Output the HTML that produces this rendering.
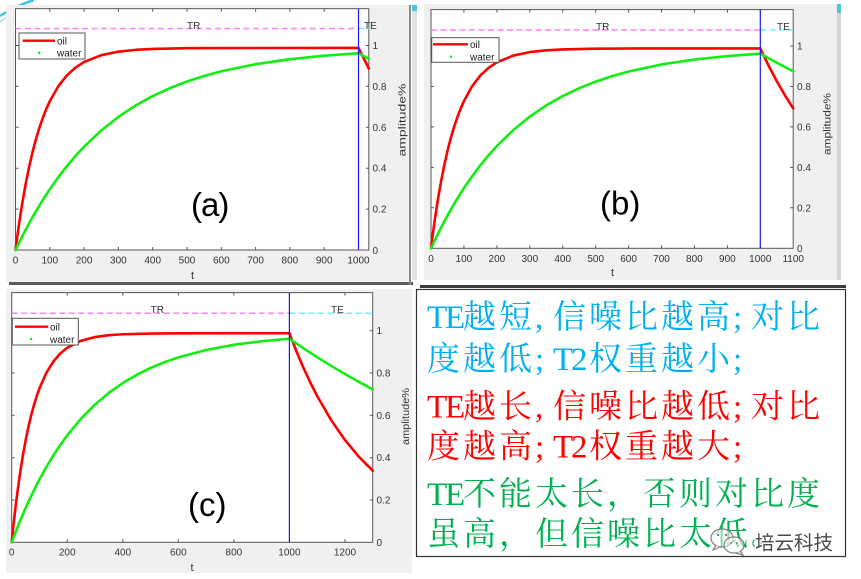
<!DOCTYPE html>
<html>
<head>
<meta charset="utf-8">
<style>
html,body{margin:0;padding:0;background:#fff;}
body{width:861px;height:579px;overflow:hidden;position:relative;}
svg{position:absolute;left:0;top:0;}
.tk{font-family:"Liberation Sans",sans-serif;font-size:10px;fill:#333;}
.lg{font-family:"Liberation Sans",sans-serif;font-size:10px;fill:#222;}
.big{font-family:"Liberation Sans",sans-serif;font-size:33px;fill:#000;}
.cn{font-family:"Liberation Serif","Noto Serif CJK SC",serif;font-size:33px;}
</style>
</head>
<body>
<svg width="861" height="579" viewBox="0 0 861 579" xmlns="http://www.w3.org/2000/svg">
<!-- decorative swoosh -->
<path d="M0 16 Q15 6 34 0" stroke="#3cc6e6" stroke-width="2.5" fill="none"/>
<path d="M0 22 Q10 14 22 9" stroke="#a6e4f2" stroke-width="1.5" fill="none"/>

<!-- ===== Panel (a) ===== -->
<rect x="6" y="5" width="403" height="277" fill="#f0f0f0"/>
<rect x="9" y="282" width="404" height="3" fill="#5a5a5a"/>
<rect x="409" y="5" width="2" height="280" fill="#8a8a8a"/>
<rect x="412" y="5" width="5" height="275" fill="#e2e2e2"/>
<rect x="412" y="5" width="5" height="6" fill="#4fc3d8"/>
<rect x="15.5" y="8.7" width="353.3" height="241.3" fill="#fff" stroke="#555" stroke-width="1"/>
<path d="M49.8 250v-3M84.1 250v-3M118.4 250v-3M152.7 250v-3M187 250v-3M221.3 250v-3M255.6 250v-3M289.9 250v-3M324.2 250v-3M358.5 250v-3M49.8 8.7v3M84.1 8.7v3M118.4 8.7v3M152.7 8.7v3M187 8.7v3M221.3 8.7v3M255.6 8.7v3M289.9 8.7v3M324.2 8.7v3M358.5 8.7v3M368.8 209.1h-3M368.8 168.2h-3M368.8 127.3h-3M368.8 86.4h-3M368.8 45.5h-3M15.5 209.1h3M15.5 168.2h3M15.5 127.3h3M15.5 86.4h3M15.5 45.5h3" stroke="#555" stroke-width="1" fill="none"/>
<path d="M15.5 28.5H358.5" stroke="#ff80ff" stroke-width="1.5" stroke-dasharray="6 3.5"/>
<path d="M358.5 28.5H368.8" stroke="#70f0ff" stroke-width="1.5" stroke-dasharray="6 3.5"/>
<g transform="translate(15.5 250) scale(0.343 -204.5)" fill="none" stroke-linejoin="round" stroke-linecap="round">
<path vector-effect="non-scaling-stroke" stroke="#ff0000" stroke-width="2.6" d="M0 0L5 .0637L10 .1233L15 .1791L20 .2313L30 .3257L40 .4084L50 .4808L60 .5441L70 .5995L80 .6479L90 .6904L100 .7276L125 .8014L150 .8543L175 .8922L200 .9193L250 .9527L300 .9699L350 .9787L400 .9832L500 .9867L600 .9877L1000 .988L1030 .8876"/>
<path vector-effect="non-scaling-stroke" stroke="#11ee11" stroke-width="2.6" d="M0 0L25 .0845L50 .1619L75 .2327L100 .2973L125 .3565L150 .4105L175 .4601L200 .5054L250 .5846L300 .6509L350 .7064L400 .7527L450 .7915L500 .8240L550 .8511L600 .8739L700 .9087L800 .9332L900 .9502L1000 .9622L1030 .9349"/>
</g>
<path d="M358.5 8.7V250" stroke="#1a1aff" stroke-width="1.2"/>
<text class="tk" x="187" y="29">TR</text>
<text class="tk" x="364" y="29">TE</text>
<rect x="19" y="33" width="66" height="26" fill="#fff" stroke="#555" stroke-width="1"/>
<path d="M22.7 40.7H55" stroke="#ff0000" stroke-width="2.4"/>
<rect x="38" y="51.7" width="2.2" height="2.2" fill="#11ee11"/>
<text class="lg" x="57" y="44.5">oil</text>
<text class="lg" x="57" y="56.5">water</text>
<g class="tk" text-anchor="middle">
<text x="15.5" y="263.5">0</text><text x="49.8" y="263.5">100</text><text x="84.1" y="263.5">200</text><text x="118.4" y="263.5">300</text><text x="152.7" y="263.5">400</text><text x="187" y="263.5">500</text><text x="221.3" y="263.5">600</text><text x="255.6" y="263.5">700</text><text x="289.9" y="263.5">800</text><text x="324.2" y="263.5">900</text><text x="358.5" y="263.5">1000</text>
<text x="192.5" y="279" font-size="11">t</text>
</g>
<g class="tk">
<text x="372.5" y="254">0</text><text x="372.5" y="212.6">0.2</text><text x="372.5" y="171.7">0.4</text><text x="372.5" y="130.8">0.6</text><text x="372.5" y="89.9">0.8</text><text x="372.5" y="49">1</text>
</g>
<text class="tk" font-size="12" transform="translate(405.5 120) rotate(-90)" text-anchor="middle" textLength="73" lengthAdjust="spacingAndGlyphs">amplitude%</text>
<text class="big" x="191" y="216" letter-spacing="-1">(a)</text>

<!-- ===== Panel (b) ===== -->
<rect x="424" y="4" width="413" height="276" fill="#f0f0f0"/>
<rect x="420" y="285" width="426" height="3" fill="#3a3a3a"/>
<rect x="837" y="4" width="4" height="276" fill="#d6d6d6"/>
<rect x="837" y="4" width="4" height="9" fill="#4fc3d8"/>
<rect x="431" y="9.6" width="362.2" height="238.7" fill="#fff" stroke="#555" stroke-width="1"/>
<path d="M463.9 248.3v-3M496.9 248.3v-3M529.8 248.3v-3M562.7 248.3v-3M595.7 248.3v-3M628.6 248.3v-3M661.5 248.3v-3M694.4 248.3v-3M727.4 248.3v-3M760.3 248.3v-3M463.9 9.6v3M496.9 9.6v3M529.8 9.6v3M562.7 9.6v3M595.7 9.6v3M628.6 9.6v3M661.5 9.6v3M694.4 9.6v3M727.4 9.6v3M760.3 9.6v3M793.2 207.8h-3M793.2 167.4h-3M793.2 126.9h-3M793.2 86.5h-3M793.2 46h-3M431 207.8h3M431 167.4h3M431 126.9h3M431 86.5h3M431 46h3" stroke="#555" stroke-width="1" fill="none"/>
<path d="M431 30H760.3" stroke="#ff80ff" stroke-width="1.5" stroke-dasharray="6 3.5"/>
<path d="M760.3 30H793.2" stroke="#70f0ff" stroke-width="1.5" stroke-dasharray="6 3.5"/>
<g transform="translate(431 248.3) scale(0.3293 -202.3)" fill="none" stroke-linejoin="round" stroke-linecap="round">
<path vector-effect="non-scaling-stroke" stroke="#ff0000" stroke-width="2.6" d="M0 0L5 .0637L10 .1233L15 .1791L20 .2313L30 .3257L40 .4084L50 .4808L60 .5441L70 .5995L80 .6479L90 .6904L100 .7276L125 .8014L150 .8543L175 .8922L200 .9193L250 .9527L300 .9699L350 .9787L400 .9832L500 .9867L600 .9877L1000 .988L1025 .9036L1050 .8265L1075 .7558L1100 .6913"/>
<path vector-effect="non-scaling-stroke" stroke="#11ee11" stroke-width="2.6" d="M0 0L25 .0845L50 .1619L75 .2327L100 .2973L125 .3565L150 .4105L175 .4601L200 .5054L250 .5846L300 .6509L350 .7064L400 .7527L450 .7915L500 .8240L550 .8511L600 .8739L700 .9087L800 .9332L900 .9502L1000 .9622L1050 .9173L1100 .8747"/>
</g>
<path d="M760.3 9.6V248.3" stroke="#1a1aff" stroke-width="1.2"/>
<text class="tk" x="596" y="30">TR</text>
<text class="tk" x="777" y="30">TE</text>
<rect x="431.7" y="37.7" width="67.3" height="24.6" fill="#fff" stroke="#555" stroke-width="1"/>
<path d="M433 44.3H468" stroke="#ff0000" stroke-width="2.4"/>
<rect x="450" y="55.6" width="2.2" height="2.2" fill="#11ee11"/>
<text class="lg" x="470" y="48">oil</text>
<text class="lg" x="470" y="60.5">water</text>
<g class="tk" text-anchor="middle">
<text x="431" y="262">0</text><text x="463.9" y="262">100</text><text x="496.9" y="262">200</text><text x="529.8" y="262">300</text><text x="562.7" y="262">400</text><text x="595.7" y="262">500</text><text x="628.6" y="262">600</text><text x="661.5" y="262">700</text><text x="694.4" y="262">800</text><text x="727.4" y="262">900</text><text x="760.3" y="262">1000</text><text x="793.2" y="262">1100</text>
<text x="612.5" y="276" font-size="11">t</text>
</g>
<g class="tk">
<text x="797" y="252">0</text><text x="797" y="211.3">0.2</text><text x="797" y="170.9">0.4</text><text x="797" y="130.4">0.6</text><text x="797" y="90">0.8</text><text x="797" y="49.5">1</text>
</g>
<text class="tk" font-size="12" transform="translate(830.5 124) rotate(-90)" text-anchor="middle" textLength="62" lengthAdjust="spacingAndGlyphs">amplitude%</text>
<text class="big" x="600" y="214.5">(b)</text>

<!-- ===== Panel (c) ===== -->
<rect x="6" y="289" width="406" height="284" fill="#f0f0f0"/>
<rect x="11.7" y="292.6" width="361" height="249.7" fill="#fff" stroke="#555" stroke-width="1"/>
<path d="M67.2 542.3v-3M122.8 542.3v-3M178.3 542.3v-3M233.9 542.3v-3M289.4 542.3v-3M345 542.3v-3M67.2 292.6v3M122.8 292.6v3M178.3 292.6v3M233.9 292.6v3M289.4 292.6v3M345 292.6v3M372.7 500h-3M372.7 457.7h-3M372.7 415.3h-3M372.7 373h-3M372.7 330.7h-3M11.7 500h3M11.7 457.7h3M11.7 415.3h3M11.7 373h3M11.7 330.7h3" stroke="#555" stroke-width="1" fill="none"/>
<path d="M11.7 313.2H289.4" stroke="#ff80ff" stroke-width="1.5" stroke-dasharray="6 3.5"/>
<path d="M289.4 313.2H372.7" stroke="#70f0ff" stroke-width="1.5" stroke-dasharray="6 3.5"/>
<g transform="translate(11.7 542.3) scale(0.2777 -211.6)" fill="none" stroke-linejoin="round" stroke-linecap="round">
<path vector-effect="non-scaling-stroke" stroke="#ff0000" stroke-width="2.6" d="M0 0L5 .0637L10 .1233L15 .1791L20 .2313L30 .3257L40 .4084L50 .4808L60 .5441L70 .5995L80 .6479L90 .6904L100 .7276L125 .8014L150 .8543L175 .8922L200 .9193L250 .9527L300 .9699L350 .9787L400 .9832L500 .9867L600 .9877L1000 .988L1025 .9036L1050 .8265L1075 .7558L1100 .6913L1150 .5783L1200 .4836L1250 .4046L1300 .3384"/>
<path vector-effect="non-scaling-stroke" stroke="#11ee11" stroke-width="2.6" d="M0 0L25 .0845L50 .1619L75 .2327L100 .2973L125 .3565L150 .4105L175 .4601L200 .5054L250 .5846L300 .6509L350 .7064L400 .7527L450 .7915L500 .8240L550 .8511L600 .8739L700 .9087L800 .9332L900 .9502L1000 .9622L1050 .9173L1100 .8747L1150 .8340L1200 .7952L1250 .7582L1300 .7229"/>
</g>
<path d="M289.4 292.6V542.3" stroke="#1a1aff" stroke-width="1.2"/>
<text class="tk" x="150.6" y="313">TR</text>
<text class="tk" x="331" y="313">TE</text>
<rect x="12.3" y="318.3" width="66" height="26.7" fill="#fff" stroke="#555" stroke-width="1"/>
<path d="M15 326.7H48.3" stroke="#ff0000" stroke-width="2.4"/>
<rect x="30" y="338" width="2.2" height="2.2" fill="#11ee11"/>
<text class="lg" x="50" y="330.5">oil</text>
<text class="lg" x="50" y="342.8">water</text>
<g class="tk" text-anchor="middle">
<text x="11.7" y="555.5">0</text><text x="67.2" y="555.5">200</text><text x="122.8" y="555.5">400</text><text x="178.3" y="555.5">600</text><text x="233.9" y="555.5">800</text><text x="289.4" y="555.5">1000</text><text x="345" y="555.5">1200</text>
<text x="192" y="571" font-size="11">t</text>
</g>
<g class="tk">
<text x="376.5" y="545.8">0</text><text x="376.5" y="503.5">0.2</text><text x="376.5" y="461.2">0.4</text><text x="376.5" y="418.8">0.6</text><text x="376.5" y="376.5">0.8</text><text x="376.5" y="334.2">1</text>
</g>
<text class="tk" font-size="12" transform="translate(409 416.5) rotate(-90)" text-anchor="middle" textLength="57" lengthAdjust="spacingAndGlyphs">amplitude%</text>
<text class="big" x="188" y="516">(c)</text>

<!-- ===== Text box ===== -->
<rect x="416.5" y="289.5" width="429" height="267" fill="#fff" stroke="#333" stroke-width="1.2"/>
<g class="cn">
<text fill="#00b0f0" x="427 445 463 499 535 553 589 625 661 697 733 751 787" y="328">TE越短,信噪比越高;对比</text>
<text fill="#00b0f0" x="427 463 499 535 553 571 589 625 661 697 733" y="370">度越低;T2权重越小;</text>
<text fill="#ff0000" x="427 445 463 499 535 553 589 625 661 697 733 751 787" y="417.5">TE越长,信噪比越低;对比</text>
<text fill="#ff0000" x="427 463 499 535 553 571 589 625 661 697 733" y="457.5">度越高;T2权重越大;</text>
<text fill="#00b050" x="427 445 463 499 535 571 607 643 679 715 751 787" y="505">TE不能太长，否则对比度</text>
<text fill="#00b050" x="427 463 499 535 571 607 643 679 715 751" y="545">虽高，但信噪比太低。</text>
</g>
<!-- watermark -->
<g fill="rgba(255,255,255,0.55)" stroke="#808080" stroke-width="1.2">
<ellipse cx="722" cy="538" rx="11" ry="9"/>
<path d="M716 545 l-3 5 l7 -3" />
<ellipse cx="734" cy="545" rx="10" ry="8"/>
<path d="M740 551 l3 4 l-7 -2"/>
</g>
<g fill="#808080"><circle cx="718" cy="535" r="1.2"/><circle cx="726" cy="535" r="1.2"/><circle cx="731" cy="543" r="1"/><circle cx="737" cy="543" r="1"/></g>
<text x="755" y="549.5" font-family="'Noto Sans CJK SC',sans-serif" font-size="19.5" fill="#4a4a4a" stroke="#fff" stroke-width="2" paint-order="stroke">培云科技</text>
</svg>
</body>
</html>
